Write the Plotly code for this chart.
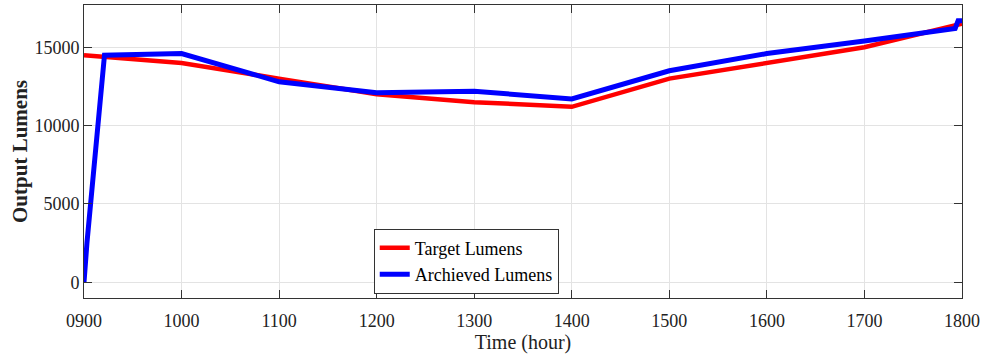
import plotly.graph_objects as go

# Target lumens (red)
target_hours = [9, 10, 11, 12, 13, 14, 15, 16, 17, 18]
target_lumens = [14500, 14000, 13000, 12000, 11500, 11200, 13000, 14000, 15000, 16500]

# Achieved lumens (blue)
achieved_hours = [9.0, 9.03, 9.21, 10, 11, 12, 13, 14, 15, 16, 17, 17.9, 17.93, 17.96, 18]
achieved_lumens = [0, 2500, 14500, 14600, 12800, 12100, 12200, 11700, 13500, 14600, 15400, 16100, 16200, 16700, 16700]

tick_vals = [9, 10, 11, 12, 13, 14, 15, 16, 17, 18]
tick_text = ["0900", "1000", "1100", "1200", "1300", "1400", "1500", "1600", "1700", "1800"]
y_ticks = [0, 5000, 10000, 15000]
y_tick_text = ["0", "5000", "10000", "15000"]

fig = go.Figure()
fig.add_trace(go.Scatter(x=target_hours, y=target_lumens, mode="lines",
                         name="Target Lumens", line=dict(color="#ff0000", width=4.5)))
fig.add_trace(go.Scatter(x=achieved_hours, y=achieved_lumens, mode="lines",
                         name="Archieved Lumens", line=dict(color="#0000ff", width=5)))

font_family = "Liberation Serif, Times New Roman, serif"
fig.update_layout(
    width=982, height=362,
    margin=dict(l=84, r=20, t=5, b=64),
    paper_bgcolor="white", plot_bgcolor="white",
    font=dict(family=font_family, color="#222", size=18),
    legend=dict(x=0.33, y=0.015, xanchor="left", yanchor="bottom",
                bordercolor="#333", borderwidth=1, bgcolor="white",
                font=dict(size=18, family=font_family, color="black")),
    xaxis=dict(range=[9, 18], tickvals=tick_vals, ticktext=tick_text, automargin=False,
               showgrid=True, gridcolor="#e3e3e3", gridwidth=1,
               showline=True, linecolor="#333", linewidth=1, mirror="ticks",
               ticks="inside", ticklen=8, tickcolor="#333", zeroline=False,
               ticklabelstandoff=6,
               title=dict(text="Time (hour)", font=dict(size=20, family=font_family), standoff=4),
               tickfont=dict(size=18)),
    yaxis=dict(range=[-1000, 17700], tickvals=y_ticks, ticktext=y_tick_text, automargin=False,
               showgrid=True, gridcolor="#e3e3e3", gridwidth=1,
               showline=True, linecolor="#333", linewidth=1, mirror="ticks",
               ticks="inside", ticklen=8, tickcolor="#333", zeroline=False,
               title=dict(text="<b>Output Lumens</b>", font=dict(size=21, family=font_family), standoff=1),
               tickfont=dict(size=18)),
)

fig.write_html("out.html", config={"displayModeBar": False},
               post_script="document.body.style.margin='0px';document.body.style.overflow='hidden';")
